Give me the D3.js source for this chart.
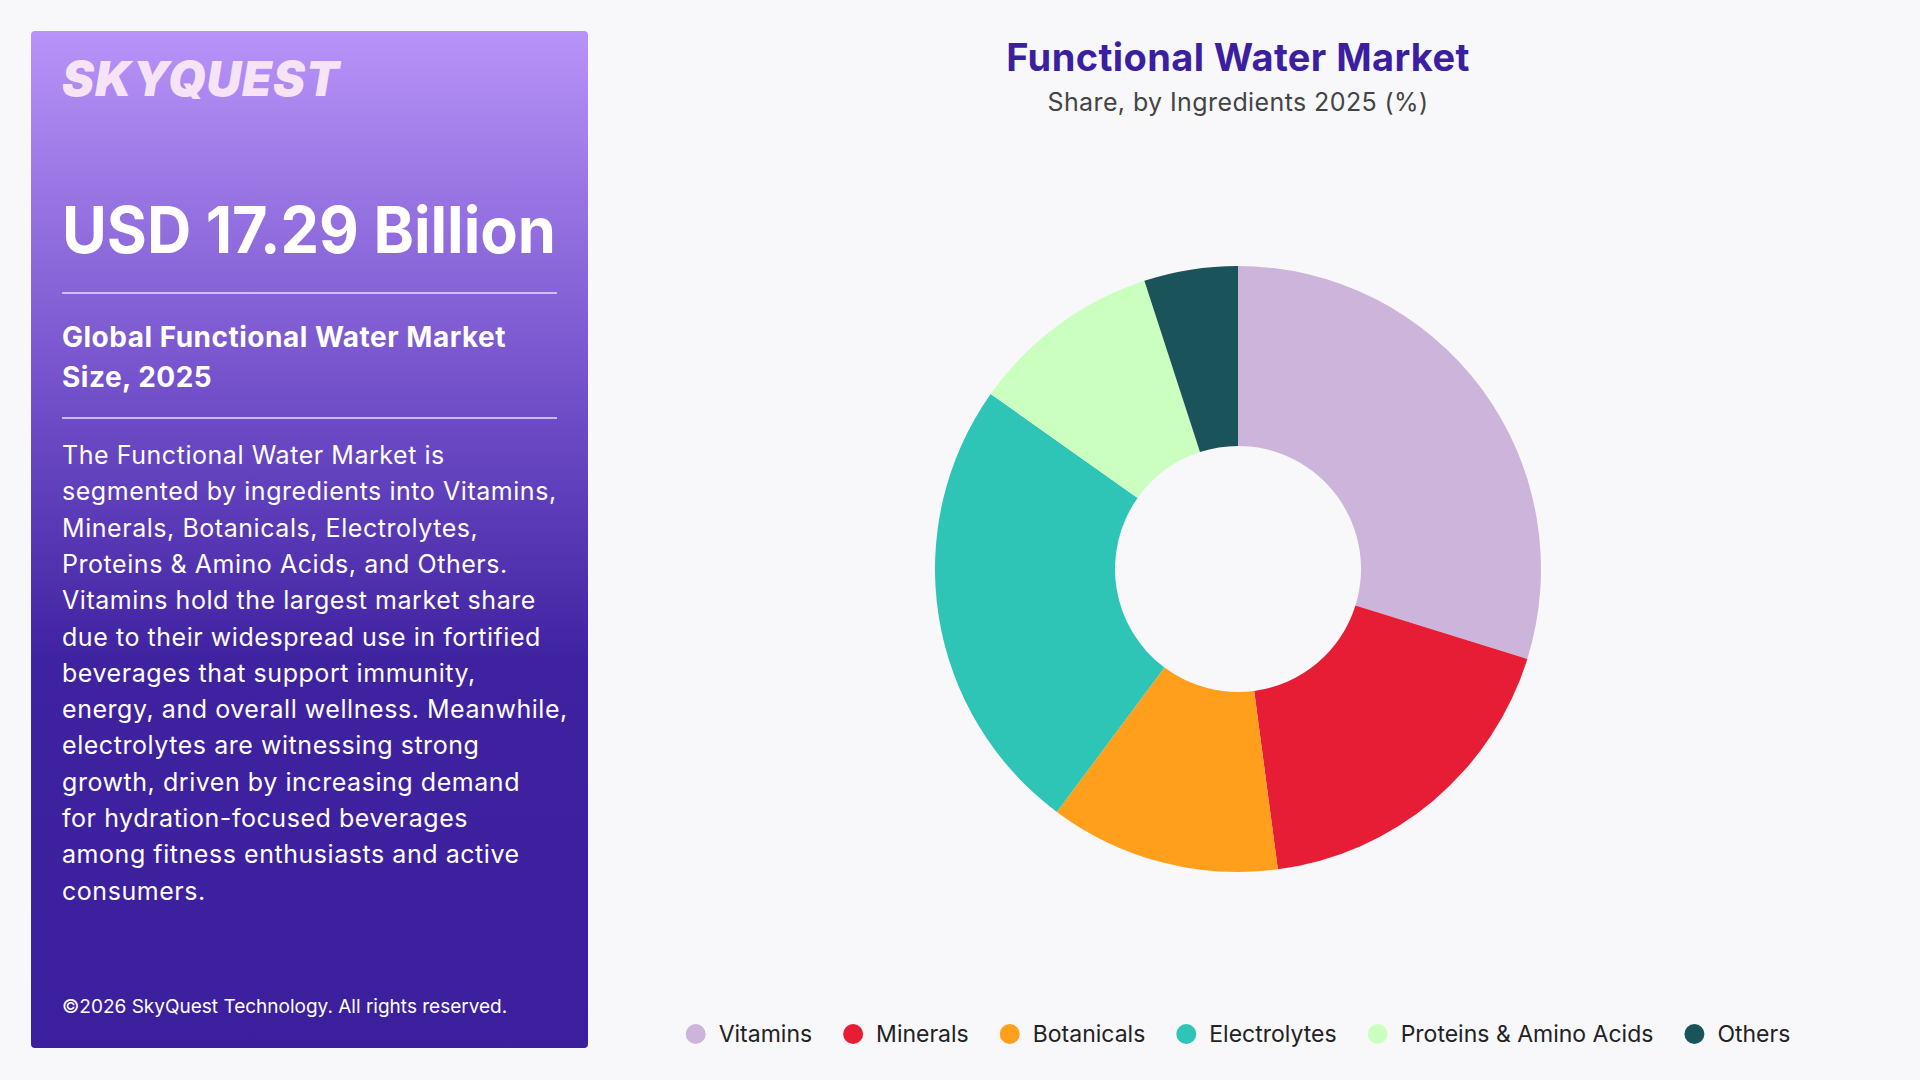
<!DOCTYPE html>
<html>
<head>
<meta charset="utf-8">
<script src="https://cdn.jsdelivr.net/npm/d3@7"></script>
<style>
  html, body { margin: 0; padding: 0; background: #f8f8fb; }
  svg { display: block; font-family: Inter, "Open Sans", sans-serif; }
</style>
</head>
<body>
<svg id="chart" width="1920" height="1080"></svg>
<script>
const categories = ["Vitamins", "Minerals", "Botanicals", "Electrolytes", "Proteins & Amino Acids", "Others"];
const shares = [29.8, 18.1, 12.3, 24.6, 10.2, 5.0];
const colors = ["#CDB4DB", "#E71D36", "#FF9F1C", "#2EC4B6", "#CBFFC0", "#1B535B"];
const title = "Functional Water Market";
const subtitle = "Share, by Ingredients 2025 (%)";
const headline = "USD 17.29 Billion";
const panelTitle = ["Global Functional Water Market", "Size, 2025"];
const paragraph = [
  "The Functional Water Market is",
  "segmented by ingredients into Vitamins,",
  "Minerals, Botanicals, Electrolytes,",
  "Proteins & Amino Acids, and Others.",
  "Vitamins hold the largest market share",
  "due to their widespread use in fortified",
  "beverages that support immunity,",
  "energy, and overall wellness. Meanwhile,",
  "electrolytes are witnessing strong",
  "growth, driven by increasing demand",
  "for hydration-focused beverages",
  "among fitness enthusiasts and active",
  "consumers."
];
const copyright = "\u00A92026 SkyQuest Technology. All rights reserved.";

const data = categories.map((c, i) => ({ name: c, value: shares[i], color: colors[i] }));
const svg = d3.select("#chart");

svg.append("rect").attr("width", 1920).attr("height", 1080).attr("fill", "#f8f8fb");

// left panel
const defs = svg.append("defs");
const grad = defs.append("linearGradient").attr("id", "panelGrad")
  .attr("x1", 0).attr("y1", 0).attr("x2", 0).attr("y2", 1);
grad.append("stop").attr("offset", "0%").attr("stop-color", "#b893f8");
grad.append("stop").attr("offset", "40%").attr("stop-color", "#6a48c4");
grad.append("stop").attr("offset", "62%").attr("stop-color", "#3f22a0");
grad.append("stop").attr("offset", "100%").attr("stop-color", "#3c1f9c");

const px = 31, py = 31, pw = 557, ph = 1017;
svg.append("rect").attr("x", px).attr("y", py).attr("width", pw).attr("height", ph)
  .attr("rx", 4).attr("fill", "url(#panelGrad)");

const lx = 62;
svg.append("text").attr("x", lx).attr("y", 96)
  .attr("font-size", 48).attr("font-weight", 900).attr("font-style", "italic")
  .attr("fill", "#f6e3f6").attr("letter-spacing", 1)
  .text("SKYQUEST");

svg.append("text").attr("x", lx).attr("y", 253)
  .attr("font-size", 64).attr("font-weight", 700).attr("fill", "#ffffff")
  .attr("textLength", 494).attr("lengthAdjust", "spacingAndGlyphs")
  .text(headline);

svg.append("line").attr("x1", lx).attr("x2", 557).attr("y1", 293).attr("y2", 293)
  .attr("stroke", "#e8def8").attr("stroke-width", 1.5);

svg.append("g").selectAll("text").data(panelTitle).join("text")
  .attr("x", lx).attr("y", (d, i) => 347 + i * 40)
  .attr("font-size", 28).attr("font-weight", 700).attr("fill", "#ffffff")
  .attr("letter-spacing", 0.5)
  .text(d => d);

svg.append("line").attr("x1", lx).attr("x2", 557).attr("y1", 418).attr("y2", 418)
  .attr("stroke", "#e8def8").attr("stroke-width", 1.5);

svg.append("g").selectAll("text").data(paragraph).join("text")
  .attr("x", lx).attr("y", (d, i) => 464 + i * 36.3)
  .attr("font-size", 25).attr("font-weight", 400).attr("fill", "#ffffff")
  .attr("letter-spacing", 0.55)
  .text(d => d);

svg.append("text").attr("x", lx).attr("y", 1013)
  .attr("font-size", 19).attr("fill", "#ffffff")
  .text(copyright);

// title
const cx = 1238, cy = 569;
svg.append("text").attr("x", cx).attr("y", 71).attr("text-anchor", "middle")
  .attr("font-size", 38).attr("font-weight", 700).attr("fill", "#3b1fa0")
  .attr("letter-spacing", 0.4)
  .text(title);
svg.append("text").attr("x", cx).attr("y", 111).attr("text-anchor", "middle")
  .attr("font-size", 25).attr("fill", "#444444").attr("letter-spacing", 0.4)
  .text(subtitle);

// donut
const R = 303, r = 123;
const pie = d3.pie().value(d => d.value).sort(null);
const arc = d3.arc().innerRadius(r).outerRadius(R);
svg.append("g").attr("transform", `translate(${cx},${cy})`)
  .selectAll("path").data(pie(data)).join("path")
  .attr("d", arc).attr("fill", d => d.data.color);

// legend
const legend = svg.append("g");
const items = legend.selectAll("g").data(data).join("g");
items.append("circle").attr("r", 10).attr("cy", 0).attr("cx", 10).attr("fill", d => d.color);
items.append("text").attr("x", 33).attr("y", 8)
  .attr("font-size", 23).attr("fill", "#222222").text(d => d.name);
let xpos = 0;
const gap = 31;
items.each(function () {
  const w = this.getBBox().width;
  d3.select(this).attr("transform", `translate(${xpos},1034)`);
  xpos += w + gap;
});
const total = xpos - gap;
legend.attr("transform", `translate(${cx - total / 2},0)`);
</script>
</body>
</html>
